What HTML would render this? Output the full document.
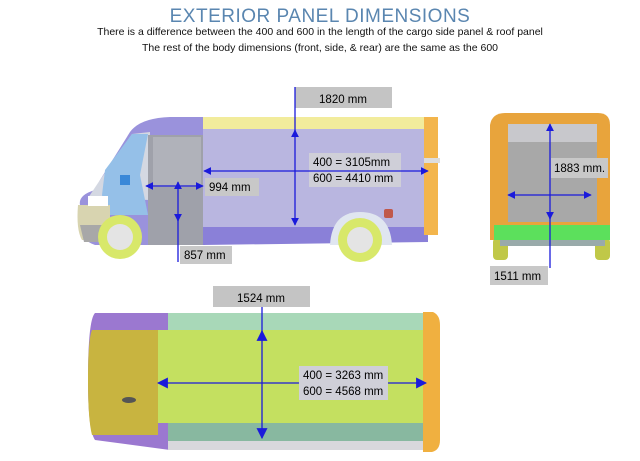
<!DOCTYPE html>
<html><head><meta charset="utf-8"><style>
html,body{margin:0;padding:0;background:#fff;width:640px;height:461px;overflow:hidden}
svg{display:block}
text{font-family:"Liberation Sans",sans-serif}
</style></head><body>
<svg width="640" height="461" viewBox="0 0 640 461" xmlns="http://www.w3.org/2000/svg">
<defs>
<marker id="ah" viewBox="0 0 10 10" refX="9" refY="5" markerWidth="8" markerHeight="8" markerUnits="userSpaceOnUse" orient="auto-start-reverse"><path d="M0,0L10,5L0,10z" fill="#1a1adb"/></marker>
<marker id="ah2" viewBox="0 0 10 10" refX="9" refY="5" markerWidth="11" markerHeight="11" markerUnits="userSpaceOnUse" orient="auto-start-reverse"><path d="M0,0L10,5L0,10z" fill="#1a1adb"/></marker>
</defs>
<text x="320" y="22" text-anchor="middle" font-size="19" fill="#5a86b0" letter-spacing="0.5">EXTERIOR PANEL DIMENSIONS</text>
<text x="320" y="35" text-anchor="middle" font-size="10.5" fill="#111">There is a difference between the 400 and 600 in the length of the cargo side panel &amp; roof panel</text>
<text x="320" y="51" text-anchor="middle" font-size="10.5" fill="#111">The rest of the body dimensions (front, side, &amp; rear) are the same as the 600</text>

<!-- SIDE VIEW -->
<path d="M80,205 Q78,195 95,190 L100,180 L130,132 Q140,118 170,117 L205,117 L205,245 L95,245 Q80,240 80,225z" fill="#9a92dc"/>
<path d="M88,198 L100,180 L132,134 L150,132 L150,200z" fill="#d4d8e2"/>
<path d="M105,170 L132,134 L148,134 L140,175 L148,215 L108,215 L102,195z" fill="#95c0e8"/>
<rect x="148" y="135" width="55" height="110" fill="#9fa1aa"/>
<rect x="153" y="137" width="48" height="50" fill="#b0b2ba"/>
<path d="M78,205 L110,205 L110,240 L82,240 Q76,230 78,205z" fill="#d8d4b0"/>
<path d="M80,225 L110,225 L110,242 L84,242z" fill="#a8a8a8"/>
<rect x="88" y="196" width="20" height="10" fill="#fff"/>
<rect x="203" y="117" width="225" height="12" fill="#f2ec9c"/>
<rect x="203" y="129" width="225" height="98" fill="#b9b6e0"/>
<path d="M203,227 L428,227 L428,242 L203,245z" fill="#8a80d8"/>
<rect x="424" y="117" width="14" height="118" fill="#f3b54c"/>
<rect x="424" y="158" width="16" height="5" fill="#ddd"/>
<rect x="384" y="209" width="9" height="9" rx="2" fill="#c0584a"/>
<path d="M330,245 Q332,212 360,212 Q390,212 392,245z" fill="#e0e6f0"/>
<circle cx="120" cy="237" r="22" fill="#d8e86a"/>
<circle cx="120" cy="237" r="13" fill="#e4e4e4"/>
<circle cx="360" cy="240" r="22" fill="#d8e86a"/>
<circle cx="360" cy="240" r="13" fill="#e4e4e4"/>
<rect x="120" y="175" width="10" height="10" fill="#3a88d8"/>

<rect x="295" y="87" width="97" height="21" fill="#c4c4c4"/>
<text x="343" y="103" text-anchor="middle" font-size="11.5">1820 mm</text>
<line x1="295" y1="87" x2="295" y2="132" stroke="#1a1adb" stroke-width="1.3"/>
<line x1="295" y1="130" x2="295" y2="225" stroke="#1a1adb" stroke-width="1.3" marker-start="url(#ah)" marker-end="url(#ah)"/>
<rect x="309" y="153" width="92" height="34" fill="#cfcfd8"/>
<text x="313" y="166" font-size="11.5">400 = 3105mm</text>
<text x="313" y="182" font-size="11.5">600 = 4410 mm</text>
<line x1="204" y1="171" x2="428" y2="171" stroke="#1a1adb" stroke-width="1.3" marker-start="url(#ah)" marker-end="url(#ah)"/>
<rect x="205" y="178" width="54" height="18" fill="#c8c8c8"/>
<text x="209" y="191" font-size="11.5">994 mm</text>
<line x1="146" y1="186" x2="203" y2="186" stroke="#1a1adb" stroke-width="1.3" marker-start="url(#ah)" marker-end="url(#ah)"/>
<line x1="178" y1="182" x2="178" y2="221" stroke="#1a1adb" stroke-width="1.3" marker-start="url(#ah)" marker-end="url(#ah)"/>
<line x1="178" y1="220" x2="178" y2="262" stroke="#1a1adb" stroke-width="1.3"/>
<rect x="180" y="246" width="52" height="18" fill="#c8c8c8"/>
<text x="184" y="259" font-size="11.5">857 mm</text>

<!-- REAR VIEW -->
<rect x="493" y="238" width="15" height="22" rx="4" fill="#c0c848"/>
<rect x="595" y="238" width="15" height="22" rx="4" fill="#c0c848"/>
<path d="M490,125 Q492,113 505,113 L598,113 Q610,113 610,125 L610,240 L490,240z" fill="#e8a43c"/>
<rect x="508" y="124" width="89" height="98" fill="#a8a8a8"/>
<rect x="508" y="124" width="89" height="18" fill="#c8c8cc"/>
<rect x="494" y="225" width="116" height="15" fill="#5ce05c"/>
<rect x="500" y="240" width="105" height="6" fill="#9aa"/>
<line x1="550" y1="124" x2="550" y2="219" stroke="#1a1adb" stroke-width="1.3" marker-start="url(#ah)" marker-end="url(#ah)"/>
<line x1="550" y1="218" x2="550" y2="268" stroke="#1a1adb" stroke-width="1.3"/>
<line x1="508" y1="195" x2="591" y2="195" stroke="#1a1adb" stroke-width="1.3" marker-start="url(#ah)" marker-end="url(#ah)"/>
<rect x="551" y="158" width="57" height="20" fill="#c8c8c8"/>
<text x="554" y="172" font-size="11.5">1883 mm.</text>
<rect x="490" y="266" width="58" height="19" fill="#c8c8c8"/>
<text x="494" y="280" font-size="11.5">1511 mm</text>

<!-- TOP VIEW -->
<path d="M95,313 L425,313 L425,450 L170,450 L95,440 Q88,430 88,380 Q88,320 95,313z" fill="#9b78d0"/>
<rect x="168" y="313" width="258" height="18" fill="#a8d8b8"/>
<rect x="168" y="423" width="258" height="18" fill="#88b8a0"/>
<rect x="168" y="441" width="258" height="9" fill="#d8d8dc"/>
<path d="M92,330 L158,330 L158,435 L92,435 Q88,420 88,380 Q88,340 92,330z" fill="#c8b440"/>
<rect x="158" y="330" width="268" height="93" fill="#c4e060"/>
<path d="M423,312 L433,312 Q440,315 440,325 L440,440 Q440,450 432,452 L423,452z" fill="#f0b040"/>
<ellipse cx="129" cy="400" rx="7" ry="3" fill="#555"/>
<rect x="213" y="286" width="97" height="21" fill="#c4c4c4"/>
<text x="261" y="302" text-anchor="middle" font-size="11.5">1524 mm</text>
<line x1="262" y1="307" x2="262" y2="333" stroke="#1a1adb" stroke-width="1.3"/>
<line x1="262" y1="331" x2="262" y2="438" stroke="#1a1adb" stroke-width="1.3" marker-start="url(#ah2)" marker-end="url(#ah2)"/>
<line x1="158" y1="383" x2="426" y2="383" stroke="#1a1adb" stroke-width="1.3" marker-start="url(#ah2)" marker-end="url(#ah2)"/>
<rect x="299" y="366" width="89" height="34" fill="#cfcfd8"/>
<text x="303" y="379" font-size="11.5">400 = 3263 mm</text>
<text x="303" y="395" font-size="11.5">600 = 4568 mm</text>
</svg>
</body></html>
